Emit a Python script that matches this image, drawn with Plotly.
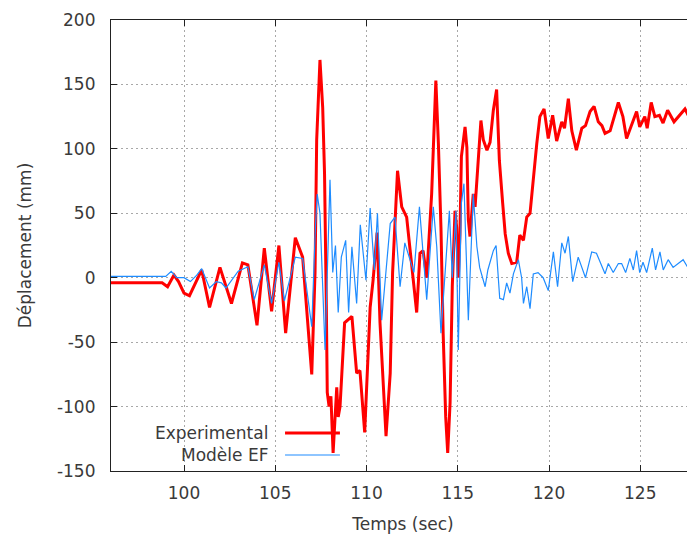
import plotly.graph_objects as go

# Experimental (red) — time (s), displacement (mm)
exp_t = [96.0, 98.8, 99.1, 99.45, 99.7, 100.0, 100.3, 100.97, 101.4, 101.97, 102.6, 103.2, 103.5,
         104.0, 104.4, 104.8, 105.2, 105.57, 106.1, 106.5, 107.0, 107.18, 107.27, 107.45, 107.6,
         107.7, 107.8, 107.85, 107.95, 108.05, 108.17, 108.27, 108.37, 108.45, 108.55, 108.8, 109.2,
         109.46, 109.64, 109.9, 110.2, 110.36, 110.58, 110.74, 111.07, 111.3, 111.43, 111.7, 111.93,
         112.2, 112.38, 112.6, 112.75, 112.93, 113.1, 113.3, 113.48, 113.57, 113.8, 113.94, 114.08,
         114.2, 114.34, 114.45, 114.58, 114.7, 114.85, 114.94, 115.03, 115.12, 115.2, 115.4, 115.5,
         115.58, 115.67, 115.85, 115.95, 116.1, 116.27, 116.4, 116.6, 116.77, 116.95, 117.13, 117.28,
         117.46, 117.6, 117.77, 117.96, 118.23, 118.4, 118.6, 118.78, 118.96, 119.14, 119.33, 119.5,
         119.73, 119.96, 120.2, 120.42, 120.7, 120.85, 121.06, 121.25, 121.5, 121.8, 122.0, 122.25,
         122.47, 122.7, 122.9, 123.07, 123.35, 123.8, 124.05, 124.25, 124.5, 124.8, 124.97, 125.25,
         125.38, 125.6, 125.8, 126.05, 126.25, 126.5, 126.85, 127.45, 127.7, 128.0]
exp_y = [-4, -4, -7, 2, -3, -12, -14, 6, -23, 8, -20, 11.5, 10,
         -37, 23, -26, 25, -43, 31, 16, -75, 4, 107, 169, 132,
         81, -23, -89, -100, -92, -136, -104, -85, -108, -100, -35, -30,
         -74, -72, -120, -23, -2, 35, -35, -123, -74, 4, 83, 55,
         47, 21, -10, -27, 19, 21, 0, 39, 65, 153, 104, 39,
         -43, -108, -136, -97, -7, 52, 39, 0, 34, 94, 117, 101,
         45, 32, 65, 55, 89, 122, 107, 99, 105, 130, 146, 91,
         58, 34, 19, 11, 12, 33, 29, 47, 50, 78, 104, 125,
         131, 108, 126, 106, 121, 116, 139, 114, 99, 116, 118, 129,
         133, 121, 118, 112, 114, 136, 125, 108, 118, 129, 117, 125,
         116, 136, 125, 126, 120, 130, 121, 131, 124, 124]

# Modèle EF (blue)
ef_t = [96.0, 99.0, 99.3, 99.6, 100.0, 100.35, 100.7, 100.97, 101.4, 101.77, 102.05, 102.3, 102.97,
        103.5, 103.85, 104.4, 104.8, 105.2, 105.5, 106.1, 106.5, 107.0, 107.2, 107.3, 107.45, 107.73,
        108.0, 108.15, 108.3, 108.45, 108.62, 108.86, 109.02, 109.2, 109.46, 109.66, 109.97, 110.2,
        110.43, 110.6, 110.83, 111.1, 111.3, 111.56, 111.84, 112.1, 112.38, 112.6, 112.9, 113.3,
        113.66, 113.85, 114.08, 114.34, 114.54, 114.7, 114.9, 115.03, 115.2, 115.34, 115.58, 115.85,
        116.05, 116.2, 116.5, 116.65, 116.95, 117.1, 117.3, 117.5, 117.68, 117.86, 118.05, 118.32,
        118.5, 118.6, 118.78, 118.96, 119.14, 119.4, 119.68, 119.96, 120.24, 120.47, 120.7, 120.88,
        121.06, 121.3, 121.6, 122.0, 122.34, 122.6, 122.8, 123.07, 123.25, 123.52, 123.8, 123.98,
        124.2, 124.43, 124.62, 124.8, 124.97, 125.15, 125.35, 125.66, 125.84, 126.08, 126.26, 126.53,
        126.8, 127.08, 127.35, 127.65, 128.0]
ef_y = [1, 1, 5, 0, 0, -3, 2, 7, -8, -3, -4, -8, 5,
        8.5, -17, 10, -20, 12, -18, 16, 15, -38, 39, 65, 50, -56,
        76, 4, 25, -27, 16, 29, -27, 24, -20, 41, -2, 54,
        6, 50, -33, 14, 42, 47, -7, 27, 14, 4, 55, -17,
        55, 24, -43, 8, 52, 0, 52, -56, 58, 73, -33, 65,
        24, 8, -7, 6, 21, 25, -16, -17, -4, -12, 3, 14,
        0, -20, -7, -24, 3, 4, 0, -10, 20, -7, 27, 19,
        32, -3, 16, 0, 20, 19, 12, 3, 11, 4, 11, 11,
        4, 15, 6, 21, 4, 12, 4, 23, 6, 20, 6, 14,
        8, 11, 14, 7, 7]

x_ticks = [100, 105, 110, 115, 120, 125]
y_ticks = [-150, -100, -50, 0, 50, 100, 150, 200]
y_tick_labels = ["-150", "-100", "-50", "0", "50", "100", "150", "200"]

FONT = "DejaVu Sans"
TXT = "#3a3a3a"
FS = 17

fig = go.Figure()
fig.add_trace(go.Scatter(x=exp_t, y=exp_y, mode="lines", name="Experimental",
                         line=dict(color="#ff0000", width=3), showlegend=False))
fig.add_trace(go.Scatter(x=ef_t, y=ef_y, mode="lines", name="Modèle EF",
                         line=dict(color="#1e8cff", width=1.2), showlegend=False))

# legend drawn gnuplot-style (text right-aligned, sample line to the right)
for i, (name, color, width) in enumerate([("Experimental", "#ff0000", 3), ("Modèle EF", "#1e8cff", 1.2)]):
    yp = 0.0843 - i * 0.0488
    fig.add_annotation(x=0.272, y=yp, xref="paper", yref="paper", text=name, showarrow=False,
                       xanchor="right", yanchor="middle", font=dict(family=FONT, size=FS, color=TXT))
    fig.add_shape(type="line", xref="paper", yref="paper", x0=0.298, x1=0.392, y0=yp, y1=yp,
                  line=dict(color=color, width=width))

axis_common = dict(showgrid=True, gridcolor="#a8a8a8", griddash="1.5px,3.5px", gridwidth=1,
                   zeroline=False, showline=True, linecolor="#222222", linewidth=1.2,
                   ticks="inside", ticklen=6, tickcolor="#222222",
                   tickfont=dict(family=FONT, size=FS, color=TXT))
fig.update_xaxes(range=[96, 128], tickvals=x_ticks, mirror="ticks", ticklabelstandoff=6,
                 title=dict(text="Temps (sec)", font=dict(family=FONT, size=FS, color=TXT), standoff=16),
                 **axis_common)
fig.update_yaxes(range=[-150, 200], tickvals=y_ticks, ticktext=y_tick_labels, ticklabelstandoff=11,
                 title=dict(text="Déplacement (mm)", font=dict(family=FONT, size=FS, color=TXT), standoff=20),
                 **axis_common)
fig.update_layout(width=687, height=532, margin=dict(l=103, r=0, t=12, b=69),
                  plot_bgcolor="white", paper_bgcolor="white")
fig.write_html("out.html")
